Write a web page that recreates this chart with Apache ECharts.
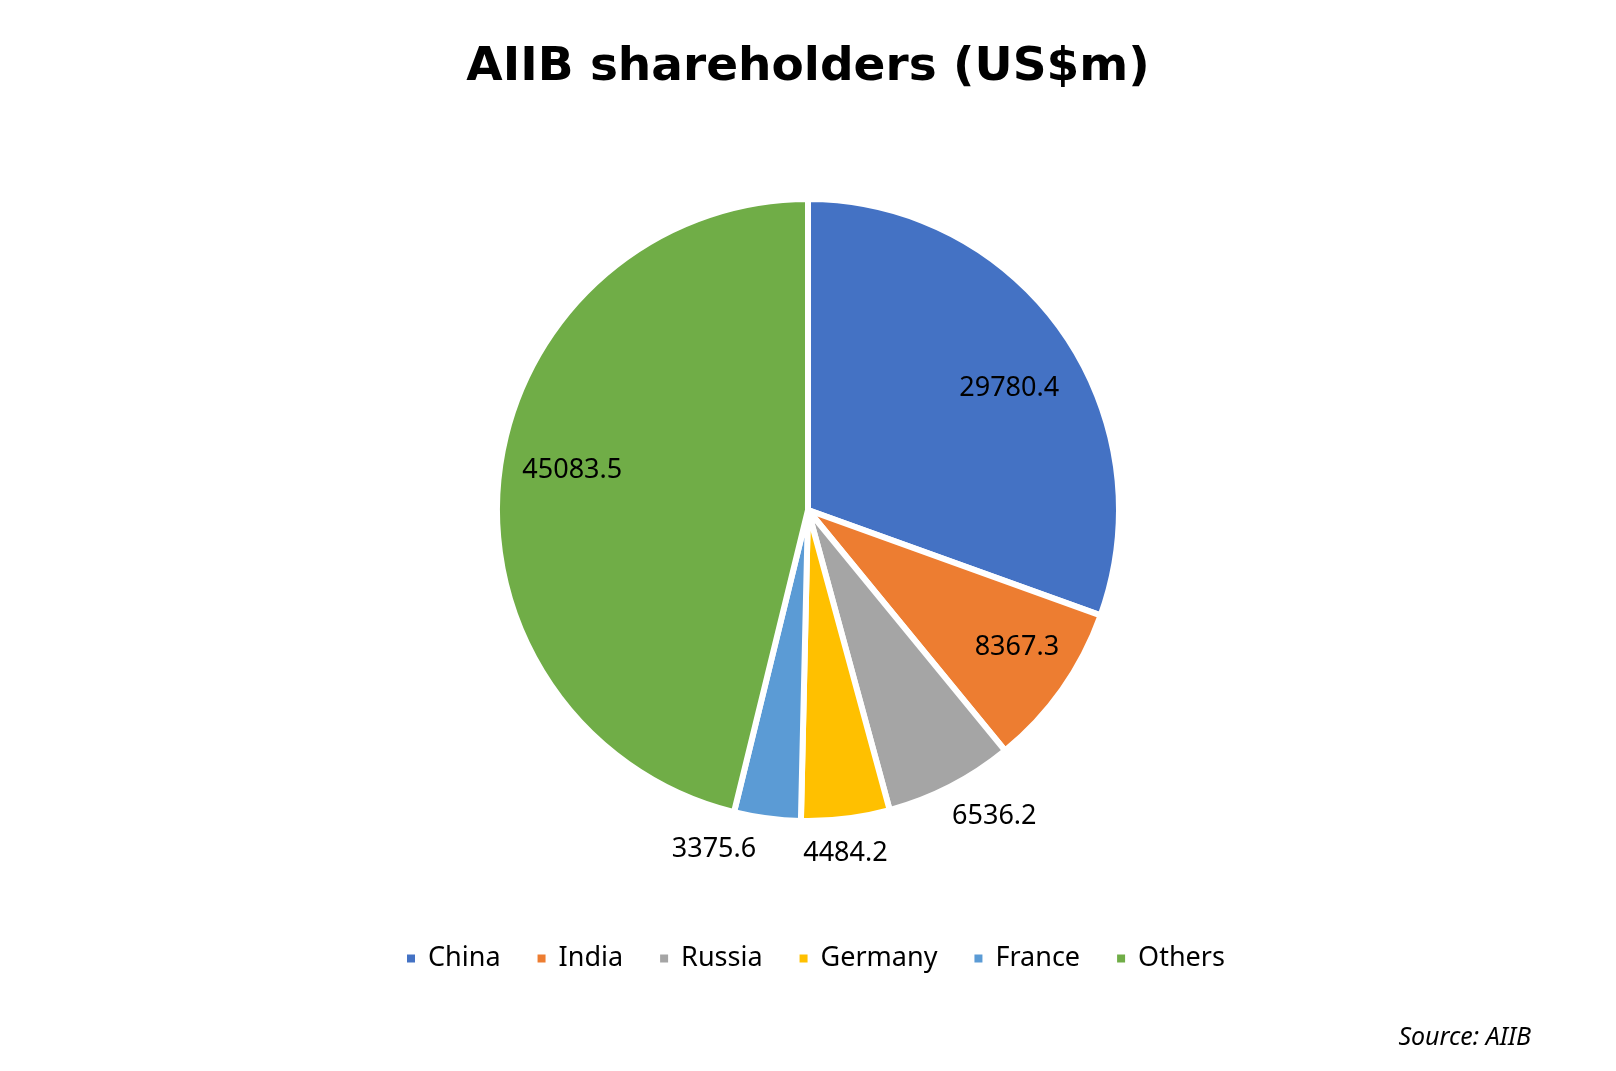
<!DOCTYPE html>
<html>
<head>
<meta charset="utf-8">
<script src="https://cdn.jsdelivr.net/npm/echarts@6/dist/echarts.min.js"></script>
<style>
html,body{margin:0;padding:0;background:#fff;}
#chart{width:1616px;height:1071px;}
</style>
</head>
<body>
<div id="chart"></div>
<script>
const categories = ['China', 'India', 'Russia', 'Germany', 'France', 'Others'];
const values = [29780.4, 8367.3, 6536.2, 4484.2, 3375.6, 45083.5];
const colors = ['#4472C4', '#ED7D31', '#A5A5A5', '#FFC000', '#5B9BD5', '#70AD47'];
const insideLabel = [true, true, false, false, false, true];

const center = [808, 510];
const R = 311;
const labelFont = { fontFamily: 'Noto Sans', fontSize: 27, color: '#000' };

const mainData = categories.map((c, i) => ({ name: c, value: values[i], itemStyle: { color: colors[i] } }));

// small label nudges (Excel "best fit" placement)
const offsets = {
  China: [2, 18],
  India: [10, -3],
  Others: [6, -11],
  Russia: [22, -12],
  Germany: [-6, -13],
  France: [-47, -16]
};

function overlay(showInside) {
  return categories.map((c, i) => ({
    name: c,
    value: values[i],
    label: {
      show: insideLabel[i] === showInside,
      offset: offsets[c] || [0, 0]
    }
  }));
}

const overlayCommon = {
  type: 'pie',
  center: center,
  startAngle: 90,
  clockwise: true,
  silent: true,
  animation: false,
  itemStyle: { color: 'rgba(0,0,0,0)', borderWidth: 0 },
  emphasis: { disabled: true },
  labelLine: { show: false },
  label: Object.assign({ position: 'inside', formatter: '{c}' }, labelFont)
};

const chart = echarts.init(document.getElementById('chart'));
chart.setOption({
  animation: false,
  backgroundColor: '#fff',
  title: [
    {
      text: 'AIIB shareholders (US$m)',
      left: 'center',
      top: 39,
      textStyle: { fontFamily: 'DejaVu Sans', fontWeight: 'bold', fontSize: 47, color: '#000' }
    },
    {
      text: 'Source: AIIB',
      right: 80,
      bottom: 16,
      textStyle: { fontFamily: 'Noto Sans', fontStyle: 'italic', fontWeight: 'normal', fontSize: 25, color: '#000' }
    }
  ],
  legend: {
    data: categories.map((c, i) => ({ name: c, itemStyle: { color: colors[i] } })),
    left: 400,
    top: 940,
    icon: 'rect',
    itemWidth: 10,
    itemHeight: 10,
    itemGap: 35,
    textStyle: Object.assign({ padding: [0, 0, 0, 7] }, labelFont)
  },
  series: [
    {
      type: 'pie',
      name: 'main',
      center: center,
      radius: [0, R],
      startAngle: 90,
      clockwise: true,
      data: mainData,
      itemStyle: { borderColor: '#fff', borderWidth: 6 },
      label: { show: false },
      labelLine: { show: false },
      emphasis: { disabled: true }
    },
    Object.assign({}, overlayCommon, { radius: [170, R], data: overlay(true) }),
    Object.assign({}, overlayCommon, { radius: [R, 400], data: overlay(false) })
  ]
});
</script>
</body>
</html>
